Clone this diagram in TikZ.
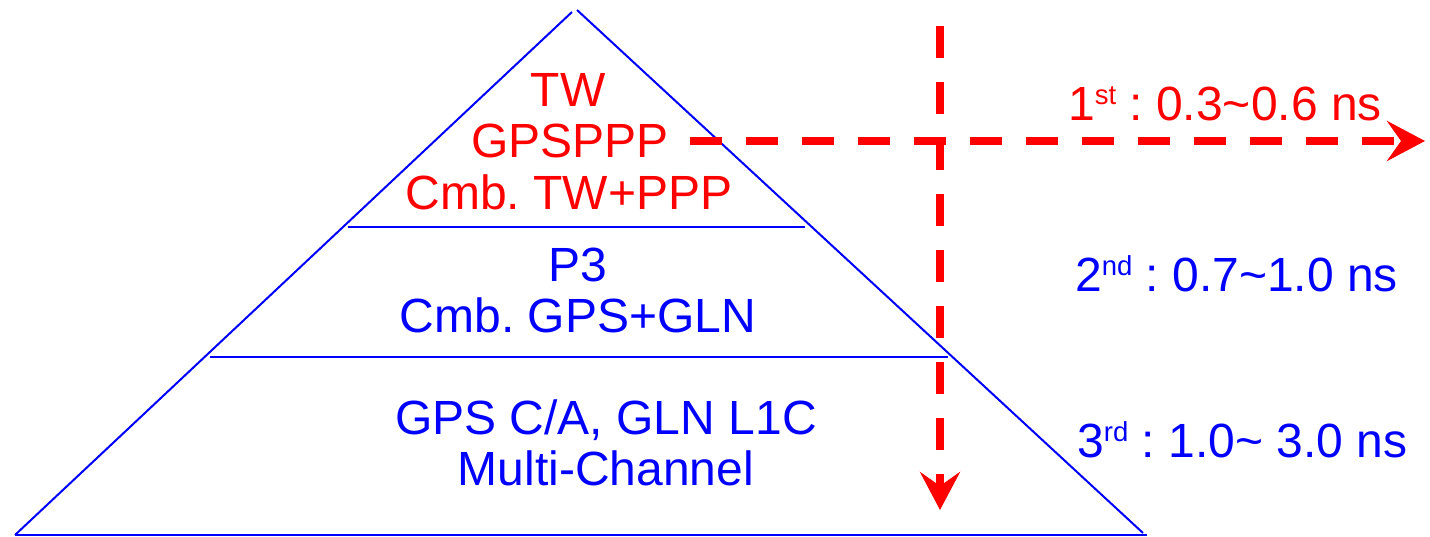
\documentclass[tikz,border=0pt]{standalone}
\usepackage{fontspec}
\setmainfont{Liberation Sans}
\usetikzlibrary{arrows.meta}
\definecolor{tred}{RGB}{255,0,0}
\definecolor{tblue}{RGB}{0,0,255}
% ordinal suffix, raised and reduced
\newcommand{\ordsup}[1]{\raisebox{16pt}{\fontsize{27.5}{27.5}\selectfont #1}}
\tikzset{
  edge/.style={draw=tblue, line width=2pt},
  label/.style={inner sep=0pt, anchor=base, font=\fontsize{48}{52}\selectfont\frenchspacing},
  redlabel/.style={label, text=tred},
  bluelabel/.style={label, text=tblue},
  rangelabel/.style={label, anchor=base west},
  flow/.style={draw=tred, line width=8pt, dash pattern=on 32pt off 24pt,
    -{Stealth[length=38pt, width=40pt, inset=14pt, fill=tred]}},
}
\begin{document}
\begin{tikzpicture}[x=1pt, y=-1pt]
  \useasboundingbox (0,0) rectangle (1430,537);
  % pyramid outline
  \coordinate (bl) at (15,535);
  \coordinate (br) at (1147,535);
  \coordinate (rb) at (1143,533);
  \coordinate (apexl) at (572,12);
  \coordinate (apexr) at (577,10);
  \draw[edge] (bl) -- (apexl);
  \draw[edge] (apexr) -- (rb);
  \draw[edge] (bl) -- (br);
  % tier separators
  \coordinate (s1l) at (348,227);
  \coordinate (s1r) at (805,227);
  \coordinate (s2l) at (210,357);
  \coordinate (s2r) at (948,357);
  \draw[edge] (s1l) -- (s1r);
  \draw[edge] (s2l) -- (s2r);
  % tier contents
  \node[redlabel] (tw) at (568,107) {TW};
  \node[redlabel] (ppp) at (570,158) {GPSPPP};
  \node[redlabel] (cmb1) at (569,210) {Cmb. TW+PPP};
  \node[bluelabel] (p3) at (578,282) {P3};
  \node[bluelabel] (cmb2) at (578,333) {Cmb. GPS+GLN};
  \node[bluelabel] (ca) at (606,434) {GPS C/A, GLN L1C};
  \node[bluelabel] (mc) at (606,485) {Multi-Channel};
  % accuracy ranges
  \node[rangelabel, text=tred] (r1) at (1068,121) {1\ordsup{st} : 0.3\textasciitilde0.6 ns};
  \node[rangelabel, text=tblue] (r2) at (1075,292) {2\ordsup{nd} : 0.7\textasciitilde1.0 ns};
  \node[rangelabel, text=tblue] (r3) at (1077,457) {3\ordsup{rd} : 1.0\textasciitilde{} 3.0 ns};
  % dashed arrows
  \coordinate (hstart) at (690,141);
  \coordinate (hend) at (1425,141);
  \coordinate (vstart) at (940,26);
  \coordinate (vend) at (940,510);
  \draw[flow] (hstart) -- (hend);
  \draw[flow] (vstart) -- (vend);
\end{tikzpicture}
\end{document}
